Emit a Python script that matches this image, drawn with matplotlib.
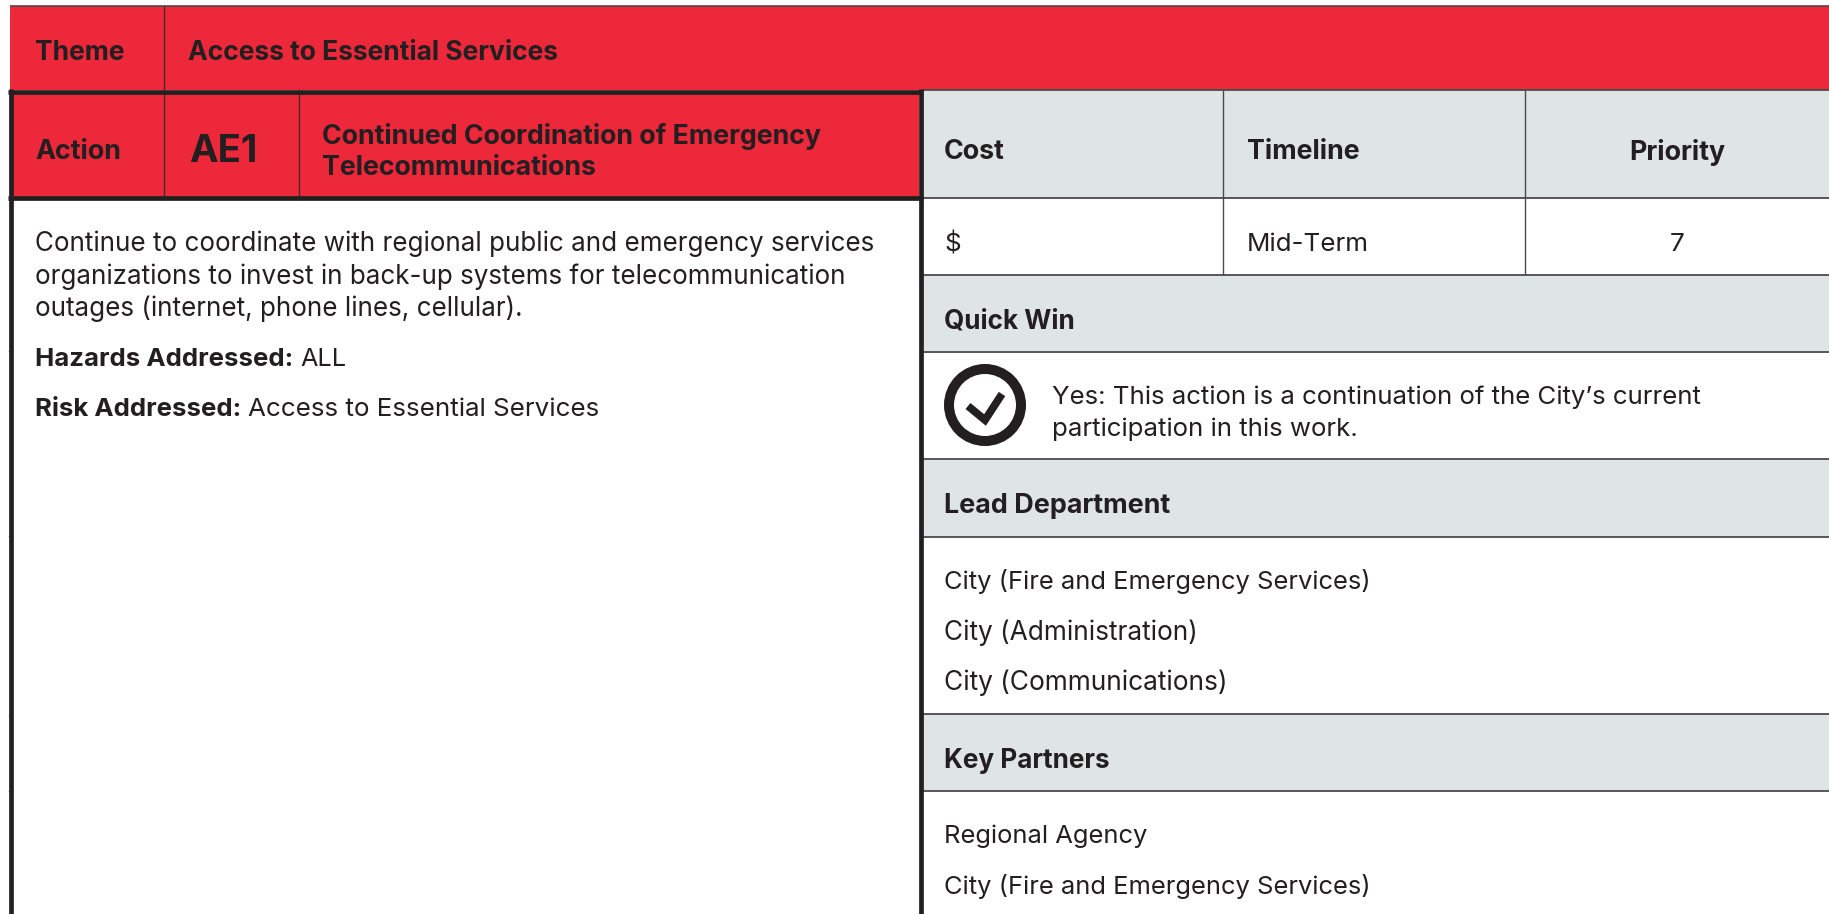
import matplotlib
matplotlib.use('Agg')
import matplotlib.pyplot as plt
from matplotlib.patches import Rectangle, Circle

RED = '#EC283A'
GREY = '#DFE5E5'
DARK = '#231F20'
LINE = '#4a4a4a'
plt.rcParams['font.family'] = ['Inter', 'DejaVu Sans']

theme_label = 'Theme'
theme_name = 'Access to Essential Services'
action_label = 'Action'
action_code = 'AE1'
action_title = ['Continued Coordination of Emergency', 'Telecommunications']
description = ['Continue to coordinate with regional public and emergency services',
               'organizations to invest in back-up systems for telecommunication',
               'outages (internet, phone lines, cellular).']
hazards = ('Hazards Addressed:', 'ALL')
risk = ('Risk Addressed:', 'Access to Essential Services')
header_cols = ['Cost', 'Timeline', 'Priority']
value_cols = ['$', 'Mid-Term', '7']
quick_win = ['Yes: This action is a continuation of the City\u2019s current',
             'participation in this work.']
lead_departments = ['City (Fire and Emergency Services)', 'City (Administration)', 'City (Communications)']
key_partners = ['Regional Agency', 'City (Fire and Emergency Services)']

W, H = 1829, 914
fig = plt.figure(figsize=(W / 100, H / 100), dpi=100)
ax = fig.add_axes([0, 0, 1, 1])
ax.set_xlim(0, W)
ax.set_ylim(H, 0)
ax.axis('off')


def rect(x0, y0, x1, y1, color, z=1):
    ax.add_patch(Rectangle((x0, y0), x1 - x0, y1 - y0, fc=color, ec='none', zorder=z))


def hline(y, x0, x1, lw=1.0, c=LINE):
    ax.plot([x0, x1], [y, y], color=c, lw=lw, solid_capstyle='butt', zorder=3)


def vline(x, y0, y1, lw=1.0, c=LINE):
    ax.plot([x, x], [y0, y1], color=c, lw=lw, solid_capstyle='butt', zorder=3)


def txt(x, y, s, size=18.7, weight='normal', ha='left', **kw):
    return ax.text(x, y, s, fontsize=size, fontweight=weight, ha=ha, va='center_baseline',
                   color=DARK, zorder=6, **kw)


# red bands
rect(10, 6, W, 90, RED)
rect(13, 93, 919, 197, RED)

# grey header rows on the right
for y0, y1 in [(90, 198), (275, 352), (459, 537), (714, 791)]:
    rect(922, y0, W, y1, GREY)

# rules
hline(6, 10, W, 1.2)
for y in [90, 198, 275, 352, 459, 537, 714, 791]:
    hline(y, 922, W, 1.3)
for y in [351, 536, 715, 791]:
    hline(y, 8, 13, 0.6, '#999999')
vline(164, 6, 199, 0.9, '#3a2a2a')
vline(299, 90, 199, 0.9, '#3a2a2a')
vline(1223, 90, 275, 1.0)
vline(1525, 90, 275, 1.0)

# thick box round the action
vline(10.5, 89.2, H, 3.4, DARK)
vline(920.5, 89.2, H, 3.4, DARK)
hline(91.5, 8, 923, 3.4, DARK)
hline(198, 8, 923, 3.4, DARK)

# left side text
txt(35, 50, theme_label, size=19, weight='bold')
txt(188, 50, theme_name, size=19, weight='bold')
txt(35, 149, action_label, size=19.3, weight='bold')
txt(189, 148, action_code, size=27.6, weight='bold')
for y, s in zip([133, 165], action_title):
    txt(322, y, s, size=19.25, weight='bold')
for y, s in zip([241, 274, 306], description):
    txt(35, y, s, size=18.72)

for y, (a, b) in zip([357, 407], [hazards, risk]):
    t = txt(35, y, a, size=18.55, weight='bold')
    fig.canvas.draw()
    bb = t.get_window_extent()
    txt(bb.x1 + 7, y, b, size=18.7 if b != 'ALL' else 18.2)

# right side text
for x, s, ha in zip([944, 1247, 1677], header_cols, ['left', 'left', 'center']):
    txt(x, 149, s, size=19.3, weight='bold', ha=ha)
for x, s, ha in zip([944, 1247, 1677], value_cols, ['left', 'left', 'center']):
    txt(x, 242, s, ha=ha)
txt(944, 318, 'Quick Win', size=18.8, weight='bold')
for y, s in zip([395, 427], quick_win):
    txt(1052, y, s, size=18.6)
txt(944, 503, 'Lead Department', size=19.4, weight='bold')
for y, s, sz in zip([579, 630, 680], lead_departments, [18.4, 18.9, 18.95]):
    txt(944, y, s, size=sz)
txt(944, 758, 'Key Partners', size=18.8, weight='bold')
for y, s, sz in zip([834, 884], key_partners, [18.4, 18.4]):
    txt(944, y, s, size=sz)

# check icon
ax.add_patch(Circle((985, 405), 36, fc='white', ec=DARK, lw=7.2, zorder=4))
ax.plot([968, 985, 1002], [406, 420, 394], color=DARK, lw=5.6, solid_joinstyle='miter',
        solid_capstyle='butt', zorder=5)

fig.savefig('out.png', dpi=100, facecolor='white')
